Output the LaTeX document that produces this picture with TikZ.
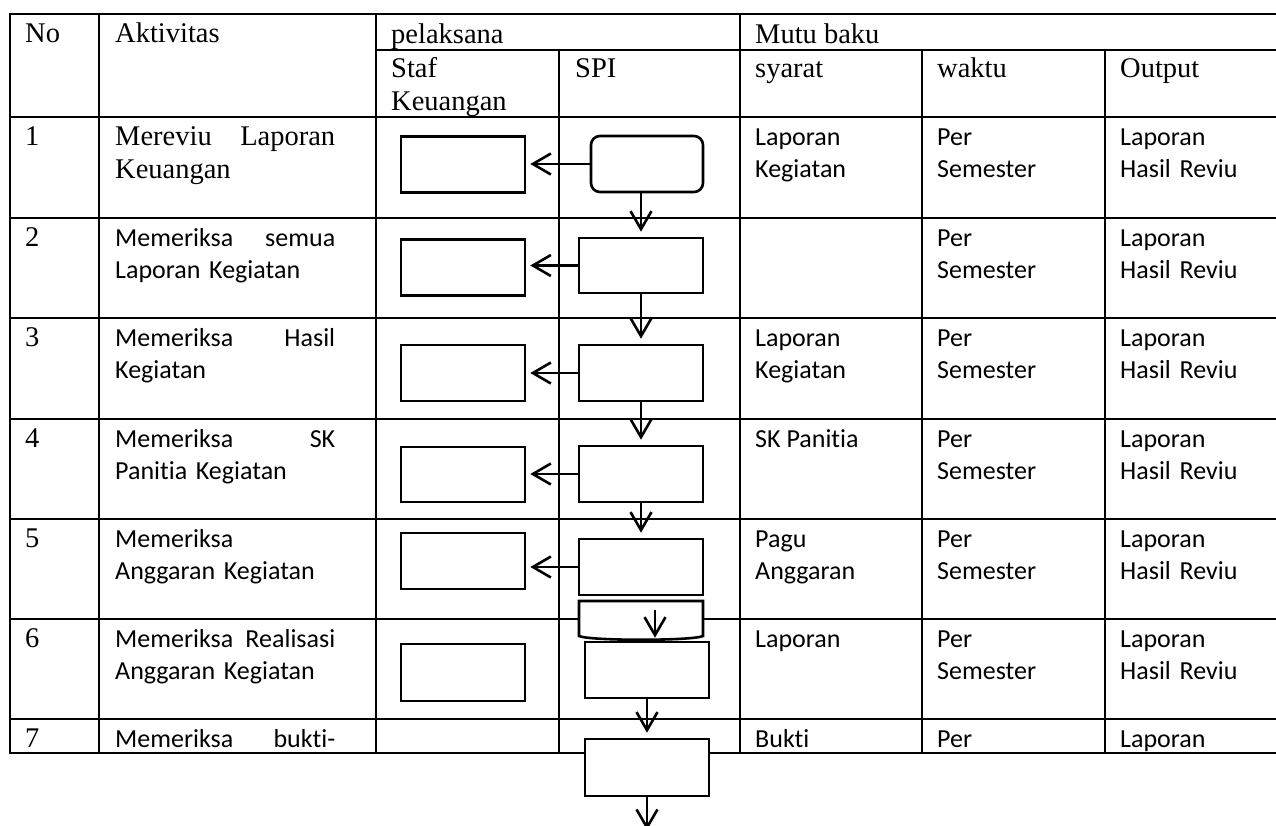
\documentclass[tikz,border=0pt]{standalone}
\usepackage{fontspec}
\setmainfont{Liberation Serif}
\newfontfamily\calfont[Ligatures=NoCommon]{Carlito}
\usetikzlibrary{arrows.meta,calc}
\begin{document}
\begin{tikzpicture}[x=1pt,y=-1pt,
  grid/.style={line width=2.7pt},
  box/.style={draw, line width=2.6pt, fill=white, minimum width=124pt, minimum height=56pt, inner sep=0pt},
  arr/.style={line width=2.6pt, -{Straight Barb[length=18pt,width=21pt]}, shorten >=5pt},
  tms/.style={anchor=base west, inner sep=0pt, align=left, font=\fontsize{28.5}{33}\selectfont},
  cal/.style={anchor=base west, inner sep=0pt, align=left, font=\calfont\fontsize{26}{32}\selectfont},
]
\useasboundingbox (0,0) rectangle (1276,825);
% table grid
\draw[grid] (10,14) rectangle (1285,753);
\draw[grid] (376,50) -- (1285,50);
\foreach \y in {117,218,318,419,519,619,719} \draw[grid] (10,\y) -- (1285,\y);
\foreach \x in {99,376,740} \draw[grid] (\x,14) -- (\x,753);
\foreach \x in {559,922,1105} \draw[grid] (\x,50) -- (\x,753);
% header
\node[tms] (hno) at (25,42) {No};
\node[tms] (hakt) at (115,42) {Aktivitas};
\node[tms] (hpel) at (391,43) {pelaksana};
\node[tms] (hmutu) at (755,43) {Mutu baku};
\node[tms, text width=160pt] (hstaf) at (391,77) {Staf\\Keuangan};
\node[tms] (hspi) at (575,77) {SPI};
\node[tms] (hsyarat) at (755,77) {syarat};
\node[tms] (hwaktu) at (937,77) {waktu};
\node[tms] (hout) at (1120,77) {Output};
% row 1
\node[tms] (n1) at (25,145) {1};
\node[tms, text width=220pt] (a1) at (115,145) {Mereviu\hfill Laporan\\Keuangan};
\node[cal, text width=160pt] (s1) at (755,145) {Laporan\\Kegiatan};
\node[cal, text width=160pt] (w1) at (937,145) {Per\\Semester};
\node[cal, text width=150pt] (o1) at (1120,145) {Laporan\\Hasil Reviu};
% row 2
\node[tms] (n2) at (25,246) {2};
\node[cal, text width=220pt] (a2) at (115,246) {Memeriksa\hfill semua\\Laporan Kegiatan};
\node[cal, text width=160pt] (w2) at (937,246) {Per\\Semester};
\node[cal, text width=150pt] (o2) at (1120,246) {Laporan\\Hasil Reviu};
% row 3
\node[tms] (n3) at (25,346) {3};
\node[cal, text width=220pt] (a3) at (115,346) {Memeriksa\hfill Hasil\\Kegiatan};
\node[cal, text width=160pt] (s3) at (755,346) {Laporan\\Kegiatan};
\node[cal, text width=160pt] (w3) at (937,346) {Per\\Semester};
\node[cal, text width=150pt] (o3) at (1120,346) {Laporan\\Hasil Reviu};
% row 4
\node[tms] (n4) at (25,447) {4};
\node[cal, text width=220pt] (a4) at (115,447) {Memeriksa\hfill SK\\Panitia Kegiatan};
\node[cal] (s4) at (755,447) {SK Panitia};
\node[cal, text width=160pt] (w4) at (937,447) {Per\\Semester};
\node[cal, text width=150pt] (o4) at (1120,447) {Laporan\\Hasil Reviu};
% row 5
\node[tms] (n5) at (25,547) {5};
\node[cal, text width=220pt] (a5) at (115,547) {Memeriksa\\Anggaran Kegiatan};
\node[cal, text width=160pt] (s5) at (755,547) {Pagu\\Anggaran};
\node[cal, text width=160pt] (w5) at (937,547) {Per\\Semester};
\node[cal, text width=150pt] (o5) at (1120,547) {Laporan\\Hasil Reviu};
% row 6
\node[tms] (n6) at (25,647) {6};
\node[cal, text width=220pt] (a6) at (115,647) {Memeriksa\hfill Realisasi\\Anggaran Kegiatan};
\node[cal] (s6) at (755,647) {Laporan};
\node[cal, text width=160pt] (w6) at (937,647) {Per\\Semester};
\node[cal, text width=150pt] (o6) at (1120,647) {Laporan\\Hasil Reviu};
% row 7
\node[tms] (n7) at (25,747) {7};
\node[cal, text width=220pt] (a7) at (115,747) {Memeriksa\hfill bukti-};
\node[cal] (s7) at (755,747) {Bukti};
\node[cal] (w7) at (937,747) {Per};
\node[cal] (o7) at (1120,747) {Laporan};
% flowchart boxes
\node[box] (st1) at (463,164.5) {};
\node[box, rounded corners=9pt, minimum width=112pt] (sp1) at (647,164) {};
\node[box] (st2) at (463,267.5) {};
\node[box, minimum height=55pt] (sp2) at (641,265.5) {};
\node[box] (st3) at (463,373) {};
\node[box] (sp3) at (641,373) {};
\node[box, minimum height=55pt] (st4) at (463,474.5) {};
\node[box] (sp4) at (641,474) {};
\node[box] (st5) at (463,561) {};
\node[box] (sp5) at (641,567) {};
\draw[line width=2.6pt, fill=white] (579,601) -- (703,601) -- (703,636)
  .. controls (692,641) and (590,641) .. (579,636) -- cycle;
\coordinate (c6a) at (655,610);
\node[box, minimum height=57pt] (st6) at (463,672.5) {};
\node[box] (sp6) at (647,670) {};
\node[box, minimum height=57pt] (sp7) at (647,767.5) {};
\coordinate (cend) at (647,830);
% connectors
\draw[arr, shorten >=4pt] (sp1.west) -- (sp1.west -| st1.east);
\draw[arr, shorten >=4pt] (sp2.west) -- (sp2.west -| st2.east);
\draw[arr, shorten >=4pt] (sp3.west) -- (sp3.west -| st3.east);
\draw[arr, shorten >=4pt] (sp4.west) -- (sp4.west -| st4.east);
\draw[arr, shorten >=4pt] (sp5.west) -- (sp5.west -| st5.east);
\draw[arr] (sp1.south -| sp2.north) -- (sp2.north);
\draw[arr] (sp2.south) -- (sp3.north);
\draw[arr] (sp3.south) -- (sp4.north);
\draw[arr] (sp4.south) -- (sp5.north);
\draw[arr, shorten >=3pt] (c6a) -- (c6a |- sp6.north);
\draw[arr] (sp6.south) -- (sp7.north);
\draw[arr, shorten >=0pt] (sp7.south) -- (cend);
\end{tikzpicture}
\end{document}
